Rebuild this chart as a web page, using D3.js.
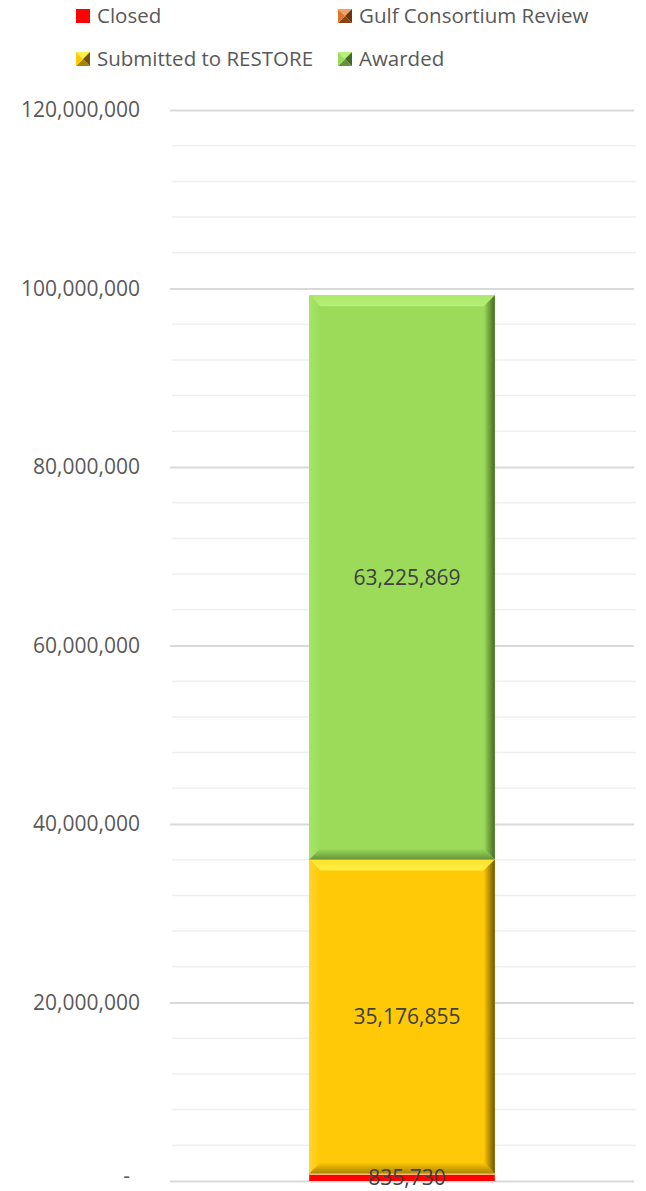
<!DOCTYPE html>
<html>
<head>
<meta charset="utf-8">
<script src="https://cdn.jsdelivr.net/npm/d3@7"></script>
<style>
  body { margin: 0; background: #fff; }
  svg { display: block; font-family: "Open Sans", "Noto Sans", sans-serif; }
</style>
</head>
<body>
<svg id="chart" width="646" height="1191"></svg>
<script>
// Project funding by status (single stacked column)
const categories = ["Projects"];
const seriesNames = ["Closed", "Gulf Consortium Review", "Submitted to RESTORE", "Awarded"];
const closed = [835730];
const gulfReview = [0];
const submitted = [35176855];
const awarded = [63225869];
const yTicks = [0, 20000000, 40000000, 60000000, 80000000, 100000000, 120000000];

const palette = {
  "Closed":                 { id: "cl", base: "#ff0000", light: "#ff0000", lightSide: "#ff0000", dark: "#ff0000", darkSide: "#ff0000", flat: true },
  "Gulf Consortium Review": { id: "gc", base: "#e0762c", light: "#f5a060", lightSide: "#ec8a44", dark: "#8a4312", darkSide: "#6e350c" },
  "Submitted to RESTORE":   { id: "sr", base: "#ffc907", light: "#fff045", lightSide: "#ffd42a", dark: "#a88400", darkSide: "#6e5500" },
  "Awarded":                { id: "aw", base: "#9cdb5a", light: "#b6f077", lightSide: "#a6e468", dark: "#66933a", darkSide: "#456b22" }
};

const rows = categories.map((c, i) => ({
  category: c,
  "Closed": closed[i],
  "Gulf Consortium Review": gulfReview[i],
  "Submitted to RESTORE": submitted[i],
  "Awarded": awarded[i]
}));

const svg = d3.select("#chart");
const defs = svg.append("defs");
const plot = { left: 170, right: 634, top: 110, bottom: 1181 };

// Gradients for the bevel edges (inner colour -> outer colour)
const addGrad = (id, x1, y1, x2, y2, c0, c1) => {
  const g = defs.append("linearGradient").attr("id", id)
    .attr("x1", x1).attr("y1", y1).attr("x2", x2).attr("y2", y2);
  g.append("stop").attr("offset", "0%").attr("stop-color", c0);
  g.append("stop").attr("offset", "100%").attr("stop-color", c1);
};
Object.values(palette).forEach(c => {
  addGrad(c.id + "-top", 0, 1, 0, 0, c.light, d3.interpolateRgb(c.light, c.base)(0.4));
  addGrad(c.id + "-bot", 0, 0, 0, 1, c.base, c.dark);
  addGrad(c.id + "-left", 1, 0, 0, 0, c.base, c.lightSide);
  addGrad(c.id + "-right", 0, 0, 1, 0, c.base, c.darkSide);
});

const y = d3.scaleLinear().domain([0, 120000000]).range([plot.bottom, plot.top]);
const x = d3.scaleBand().domain(categories).range([plot.left, plot.right]).paddingInner(0.6).paddingOuter(0.3);

// Minor gridlines every 4,000,000
const minorTicks = d3.range(0, 120000001, 4000000).filter(v => v % 20000000 !== 0);
svg.append("g").selectAll("line").data(minorTicks).join("line")
  .attr("x1", plot.left + 2).attr("x2", plot.right + 2)
  .attr("y1", d => y(d)).attr("y2", d => y(d))
  .attr("stroke", "#efefef").attr("stroke-width", 1.5);

// Major gridlines + labels via an axis
const fmt = d => d === 0 ? "-" : d3.format(",")(d);
const axis = d3.axisLeft(y).tickValues(yTicks).tickFormat(fmt)
  .tickSize(-(plot.right - plot.left)).tickPadding(30);
const gAxis = svg.append("g").attr("transform", `translate(${plot.left},0)`).call(axis);
gAxis.select(".domain").remove();
gAxis.selectAll(".tick line").attr("stroke", "#d9d9d9").attr("stroke-width", 2);
gAxis.selectAll(".tick text").attr("fill", "#595959").attr("font-size", 21)
  .attr("font-family", "\"Open Sans\", sans-serif");
gAxis.selectAll(".tick text").filter(d => d === 0).attr("dx", -10).attr("dy", "0.05em");

// Stacked segments with a bevelled look
const stack = d3.stack().keys(seriesNames)(rows);
const bevel = 11;
const gBars = svg.append("g");
stack.forEach(layer => {
  const col = palette[layer.key];
  layer.forEach(d => {
    const v = d[1] - d[0];
    if (v <= 0) return;
    const x0 = x(d.data.category), x1 = x0 + x.bandwidth();
    const y0 = y(d[0]), y1 = y(d[1]);
    const g = gBars.append("g");
    g.append("rect").attr("x", x0).attr("y", y1).attr("width", x1 - x0).attr("height", y0 - y1).attr("fill", col.base);
    if (col.flat) {
      g.append("line").attr("x1", x0).attr("x2", x1).attr("y1", y1 + 0.5).attr("y2", y1 + 0.5)
        .attr("stroke", "#fff3a0").attr("stroke-width", 1.5);
      return;
    }
    const b = Math.min(bevel, (y0 - y1) / 2);
    const poly = (pts, fill) => g.append("polygon").attr("points", pts.map(p => p.join(",")).join(" ")).attr("fill", fill);
    poly([[x0, y1], [x1, y1], [x1 - b, y1 + b], [x0 + b, y1 + b]], `url(#${col.id}-top)`);
    poly([[x0, y0], [x1, y0], [x1 - b, y0 - b], [x0 + b, y0 - b]], `url(#${col.id}-bot)`);
    poly([[x0, y1], [x0 + b, y1 + b], [x0 + b, y0 - b], [x0, y0]], `url(#${col.id}-left)`);
    poly([[x1, y1], [x1 - b, y1 + b], [x1 - b, y0 - b], [x1, y0]], `url(#${col.id}-right)`);
  });
});

// Value labels
const gLabels = svg.append("g");
stack.forEach(layer => {
  layer.forEach(d => {
    const v = d[1] - d[0];
    if (v <= 0) return;
    const cx = x(d.data.category) + x.bandwidth() / 2;
    const cy = (y(d[0]) + y(d[1])) / 2;
    gLabels.append("text").attr("x", cx + 5).attr("y", cy).attr("dy", "0.35em")
      .attr("text-anchor", "middle").attr("font-size", 21).attr("fill", "#404040")
      .text(d3.format(",")(v));
  });
});

// Legend
const legendItems = [
  { name: "Closed", x: 76, y: 16 },
  { name: "Gulf Consortium Review", x: 338, y: 16 },
  { name: "Submitted to RESTORE", x: 76, y: 59 },
  { name: "Awarded", x: 338, y: 59 }
];
const gLeg = svg.append("g");
legendItems.forEach(it => {
  const col = palette[it.name];
  const s = 14, sx = it.x, sy = it.y - s / 2;
  const g = gLeg.append("g");
  if (col.flat) {
    g.append("rect").attr("x", sx).attr("y", sy).attr("width", s).attr("height", s).attr("fill", col.base);
  } else {
    const c = [sx + s / 2, sy + s / 2];
    const tri = (pts, fill) => g.append("polygon").attr("points", pts.map(p => p.join(",")).join(" ")).attr("fill", fill);
    tri([[sx, sy], [sx + s, sy], c], col.light);
    tri([[sx, sy + s], [sx + s, sy + s], c], col.dark);
    tri([[sx, sy], [sx, sy + s], c], col.base);
    tri([[sx + s, sy], [sx + s, sy + s], c], col.darkSide);
  }
  g.append("text").attr("x", sx + s + 7).attr("y", it.y).attr("dy", "0.35em")
    .attr("font-size", 20.5).attr("fill", "#595959").text(it.name);
});
</script>
</body>
</html>
